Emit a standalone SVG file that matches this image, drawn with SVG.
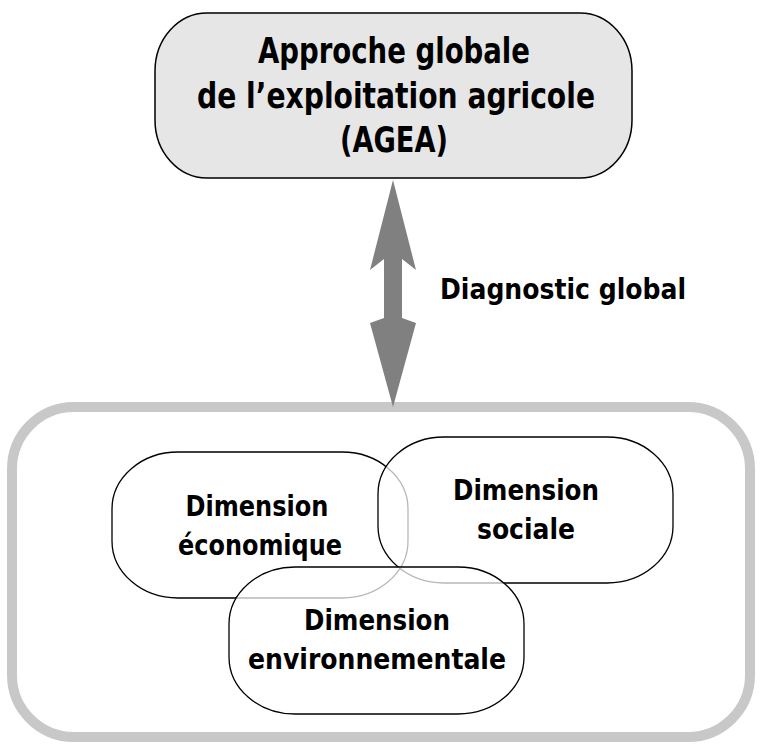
<svg xmlns="http://www.w3.org/2000/svg" width="761" height="747" viewBox="0 0 761 747">
<style>
text{font-family:"DejaVu Sans Condensed","DejaVu Sans","Liberation Sans",sans-serif;font-weight:bold;fill:#000;text-anchor:middle}
.big{font-size:36px}
.mid{font-size:29px}
.dim{fill:#fff;fill-opacity:0.72;stroke:#000;stroke-width:1.3}
</style>
<rect width="761" height="747" fill="#fff"/>
<g id="frame">
<rect x="12" y="407" width="738" height="330" rx="62" ry="62" fill="none" stroke="#c8c8c8" stroke-width="10"/>
</g>
<g id="agea">
<rect x="155" y="13" width="477" height="165" rx="52" ry="58" fill="#e6e6e6" stroke="#000" stroke-width="1.5"/>
<text class="big" x="394" y="63" textLength="272" lengthAdjust="spacingAndGlyphs">Approche globale</text>
<text class="big" x="396" y="108" textLength="398" lengthAdjust="spacingAndGlyphs">de l’exploitation agricole</text>
<text class="big" x="394" y="152" textLength="108" lengthAdjust="spacingAndGlyphs">(AGEA)</text>
</g>
<g id="connectors">
<polygon points="393,180 416,270 402,259 402,318 416,323 393,407 370,323 384,318 384,259 370,270" fill="#808080"/>
<text class="mid" x="563" y="299" textLength="246" lengthAdjust="spacingAndGlyphs">Diagnostic global</text>
</g>
<g id="economique">
<rect class="dim" x="112" y="452" width="296" height="146" rx="66" ry="57"/>
<text class="mid" x="257" y="516" textLength="143" lengthAdjust="spacingAndGlyphs">Dimension</text>
<text class="mid" x="260" y="555" textLength="164" lengthAdjust="spacingAndGlyphs">économique</text>
</g>
<g id="sociale">
<rect class="dim" x="378" y="437" width="295" height="146" rx="66" ry="57"/>
<text class="mid" x="526" y="500" textLength="146" lengthAdjust="spacingAndGlyphs">Dimension</text>
<text class="mid" x="526" y="539" textLength="98" lengthAdjust="spacingAndGlyphs">sociale</text>
</g>
<g id="environnementale">
<rect class="dim" x="229" y="567" width="295" height="147" rx="66" ry="57"/>
<text class="mid" x="377" y="630" textLength="146" lengthAdjust="spacingAndGlyphs">Dimension</text>
<text class="mid" x="377" y="669" textLength="258" lengthAdjust="spacingAndGlyphs">environnementale</text>
</g>
</svg>
